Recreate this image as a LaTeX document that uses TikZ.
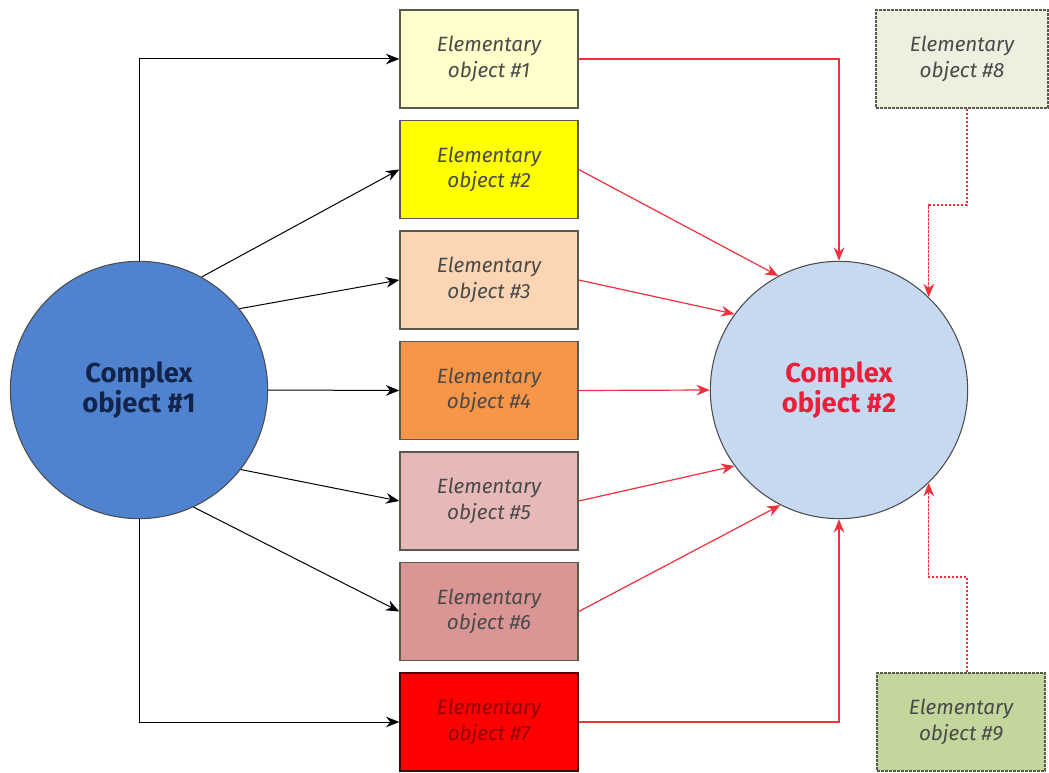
\documentclass[tikz,border=0pt]{standalone}
\usepackage{fontspec}
\setmainfont{Fira Sans}
\usetikzlibrary{arrows.meta}
\definecolor{c1fill}{HTML}{4F83CF}
\definecolor{c1text}{HTML}{13244A}
\definecolor{c2fill}{HTML}{C6D9F1}
\definecolor{c2text}{HTML}{E8203A}
\definecolor{bord}{HTML}{5A5A4C}
\definecolor{etext}{HTML}{4A4A4A}
\definecolor{fa}{HTML}{FFFFCC}
\definecolor{fb}{HTML}{FFFF00}
\definecolor{fc}{HTML}{FCD5B4}
\definecolor{fd}{HTML}{F79646}
\definecolor{fe}{HTML}{E6B9B8}
\definecolor{ff}{HTML}{D99694}
\definecolor{fg}{HTML}{FF0000}
\definecolor{fh}{HTML}{EBF1DE}
\definecolor{fi}{HTML}{C3D69B}
\definecolor{redline}{HTML}{F0303A}
\tikzset{
  x=0.75pt,y=-0.75pt,
  elem/.style={draw=bord,line width=1.1pt,minimum width=133.5pt,minimum height=73.5pt,inner sep=0pt,
     align=center,font=\fontsize{15.5}{19}\selectfont\itshape,text=etext},
  dashbox/.style={elem,dashed,dash pattern=on 2pt off 1pt},
  cplx/.style={circle,draw=black!70,line width=0.8pt,minimum size=193pt,inner sep=0pt,align=center,
     font=\fontsize{20.5}{20}\selectfont\bfseries},
  blk/.style={draw=black,line width=0.75pt,-{Stealth[length=10pt,width=8pt]}},
  rd/.style={draw=redline,line width=0.9pt,-{Stealth[length=10pt,width=8pt]}},
  rdd/.style={rd,dashed,dash pattern=on 2pt off 1pt}
}
\begin{document}
\begin{tikzpicture}
\useasboundingbox (0,0) rectangle (1049,773);
\node[cplx,fill=c1fill,text=c1text] (c1) at (139,390) {Complex\\object \#1};
\node[cplx,fill=c2fill,text=c2text] (c2) at (839,390) {Complex\\object \#2};
\node[elem,fill=fa] (e1) at (489,59) {Elementary\\object \#1};
\node[elem,fill=fb] (e2) at (489,169.5) {Elementary\\object \#2};
\node[elem,fill=fc] (e3) at (489,280) {Elementary\\object \#3};
\node[elem,fill=fd] (e4) at (489,390.5) {Elementary\\object \#4};
\node[elem,fill=fe] (e5) at (489,501) {Elementary\\object \#5};
\node[elem,fill=ff] (e6) at (489,611.5) {Elementary\\object \#6};
\node[elem,fill=fg,draw=black!70!red,text=black!25!red!75!black] (e7) at (489,722) {Elementary\\object \#7};
\node[dashbox,fill=fh,minimum width=129pt] (e8) at (962,59) {Elementary\\object \#8};
\node[dashbox,fill=fi,minimum width=126pt] (e9) at (961,722) {Elementary\\object \#9};
% black connectors
\draw[blk] (c1.north) |- (e1.west);
\draw[blk] (c1.61) -- (e2.west);
\draw[blk] (c1.39) -- (e3.west);
\draw[blk] (c1.east) -- (e4.west);
\draw[blk] (c1.-38) -- (e5.west);
\draw[blk] (c1.-65) -- (e6.west);
\draw[blk] (c1.south) |- (e7.west);
% red connectors
\draw[rd] (e1.east) -| (c2.north);
\draw[rd] (e2.east) -- (c2.118);
\draw[rd] (e3.east) -- (c2.144);
\draw[rd] (e4.east) -- (c2.west);
\draw[rd] (e5.east) -- (c2.216);
\draw[rd] (e6.east) -- (c2.243);
\draw[rd] (e7.east) -| (c2.south);
\coordinate (k8) at (967,205);
\coordinate (k9) at (967,577);
\draw[rdd] (k8 |- e8.south) -- (k8) -| (c2.46.4);
\draw[rdd] (k9 |- e9.north) -- (k9) -| (c2.-46.4);
\end{tikzpicture}
\end{document}
